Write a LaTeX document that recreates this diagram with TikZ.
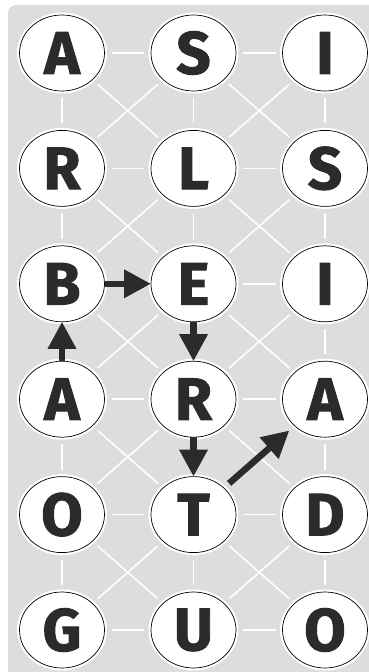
\documentclass[tikz,border=0pt]{standalone}
\usepackage{fontspec}
\setsansfont{Fira Sans}[BoldFeatures={FakeBold=1.6}]
\usetikzlibrary{arrows.meta,positioning,shapes.geometric}

\definecolor{boardgrey}{HTML}{DCDDDF}
\definecolor{letterink}{HTML}{2B2B2B}

\begin{document}
\begin{tikzpicture}[
  x=1pt,y=1pt,
  node distance=39.4pt and 46.5pt,
  letter/.style={ellipse,draw=black,line width=0.7pt,fill=white,
                 minimum width=85pt,minimum height=76pt,
                 inner sep=0pt,outer sep=0pt,text=letterink,
                 font=\sffamily\bfseries\fontsize{60}{60}\selectfont,
                 preaction={draw=white,line width=5pt}},
  gridline/.style={draw=white,line width=1.6pt,shorten >=7pt,shorten <=7pt},
  trail/.style={draw=letterink,line width=6.5pt,
                -{Triangle[length=27pt,width=27pt]}},
]

% --- page and grey board ---
\clip (0,0) rectangle (369,-672);
\fill[boardgrey,rounded corners=8pt] (8,-5) rectangle (390,-690);

% --- letter grid: columns a,b,c ; rows 1..6 ---
\node[letter] (a1) at (62,-53) {A};
\node[letter,right=of a1] (b1) {S};
\node[letter,right=of b1] (c1) {I};

\node[letter,below=of a1] (a2) {R};
\node[letter,right=of a2] (b2) {L};
\node[letter,right=of b2] (c2) {S};

\node[letter,below=of a2] (a3) {B};
\node[letter,right=of a3] (b3) {E};
\node[letter,right=of b3] (c3) {I};

\node[letter,below=of a3] (a4) {A};
\node[letter,right=of a4] (b4) {R};
\node[letter,right=of b4] (c4) {A};

\node[letter,below=of a4] (a5) {O};
\node[letter,right=of a5] (b5) {T};
\node[letter,right=of b5] (c5) {D};

\node[letter,below=of a5] (a6) {G};
\node[letter,right=of a6] (b6) {U};
\node[letter,right=of b6] (c6) {O};

% --- white links between neighbours ---
\foreach \r in {1,...,6}
  \path (a\r) edge[gridline] (b\r) (b\r) edge[gridline] (c\r);
\foreach \r [evaluate=\r as \s using int(\r+1)] in {1,...,5}
  \path (a\r) edge[gridline] (a\s) edge[gridline] (b\s)
        (b\r) edge[gridline] (b\s) edge[gridline] (a\s) edge[gridline] (c\s)
        (c\r) edge[gridline] (c\s) edge[gridline] (b\s);

% --- the word trail ---
\draw[trail] (a4) -- (a3);
\draw[trail] (a3) -- (b3);
\draw[trail] (b3) -- (b4);
\draw[trail] (b4) -- (b5);
\draw[trail,shorten <=7pt,shorten >=7pt] (b5) -- (c4);

\end{tikzpicture}
\end{document}
